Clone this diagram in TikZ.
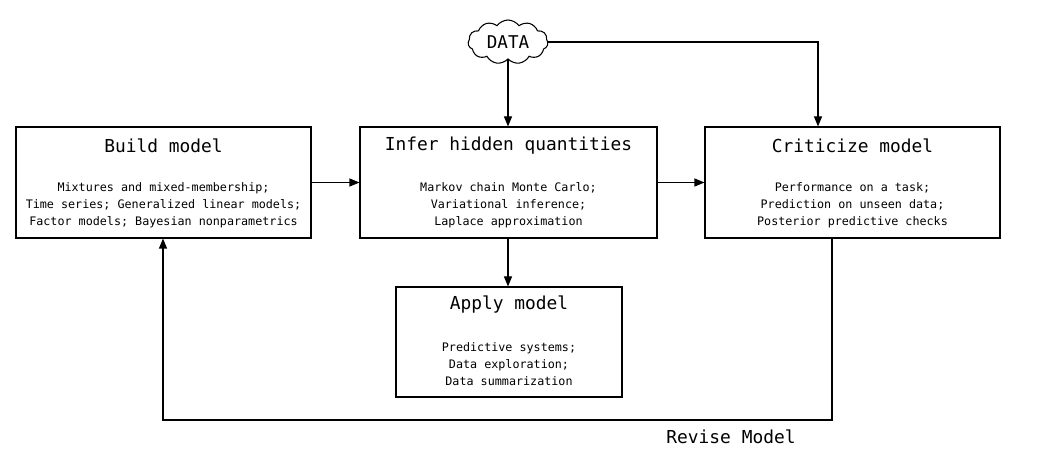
\documentclass[tikz,border=0pt]{standalone}
\usepackage{fontspec}
\setmonofont{DejaVu Sans Mono}
\usetikzlibrary{shapes.symbols,arrows.meta}
\tikzset{
  stagebox/.style={draw, line width=0.8pt, rectangle, inner sep=0pt},
  titletext/.style={font=\ttfamily\fontsize{13.4pt}{15pt}\selectfont, inner sep=0pt, anchor=center},
  bodytext/.style={font=\ttfamily\fontsize{8.8pt}{12.75pt}\selectfont, align=center, inner sep=0pt, anchor=center},
  flow/.style={line width=0.8pt, -{Triangle[length=7.5pt,width=6pt]}},
}
\begin{document}
\begin{tikzpicture}[x=0.75pt,y=-0.75pt]
\useasboundingbox (0,0) rectangle (1049,463);
% boxes
\node[stagebox, minimum width=295*0.75pt, minimum height=111*0.75pt] (build) at (163.5,182.5) {};
\node[stagebox, minimum width=297*0.75pt, minimum height=111*0.75pt] (infer) at (508.5,182.5) {};
\node[stagebox, minimum width=295*0.75pt, minimum height=111*0.75pt] (crit) at (852.5,182.5) {};
\node[stagebox, minimum width=226*0.75pt, minimum height=110*0.75pt] (apply) at (509,342) {};
% cloud
\node[cloud, draw, line width=0.8pt, cloud puffs=11, cloud puff arc=110, aspect=1.8, minimum width=80*0.75pt, minimum height=44*0.75pt, inner sep=0pt, font=\ttfamily\fontsize{13.2pt}{15pt}\selectfont] (data) at (508,42) {DATA};
\coordinate (mid) at (508,0);
% titles
\node[titletext] (buildT) at (163.5,145.5) {Build model};
\node[titletext] (inferT) at (508.5,145.5) {Infer hidden quantities};
\node[titletext] (critT) at (852.5,145.5) {Criticize model};
\node[titletext] (applyT) at (509,305) {Apply model};
% bodies
\node[bodytext] (buildB) at (163.5,205) {Mixtures and mixed-membership;\\Time series; Generalized linear models;\\Factor models; Bayesian nonparametrics};
\node[bodytext] (inferB) at (508.5,205) {Markov chain Monte Carlo;\\Variational inference;\\Laplace approximation};
\node[bodytext] (critB) at (852.5,205) {Performance on a task;\\Prediction on unseen data;\\Posterior predictive checks};
\node[bodytext] (applyB) at (509,364) {Predictive systems;\\Data exploration;\\Data summarization};
% connectors
\draw[flow] (data.south) -- (data.south |- infer.north);
\draw[flow] (data.east) -- (818,0 |- data.east) -- (818,0 |- crit.north);
\draw[flow] (build.east) -- (infer.west);
\draw[flow] (infer.east) -- (crit.west);
\draw[flow] (infer.south -| mid) -- (mid |- apply.north);
\coordinate (r1) at (832,420);
\coordinate (r2) at (163,420);
\draw[flow] (crit.south -| r1) -- (r1) -- (r2) -- (build.south -| r2);
\node[font=\ttfamily\fontsize{13.4pt}{15pt}\selectfont, inner sep=0pt] (revise) at (731,437) {Revise Model};
\end{tikzpicture}
\end{document}
